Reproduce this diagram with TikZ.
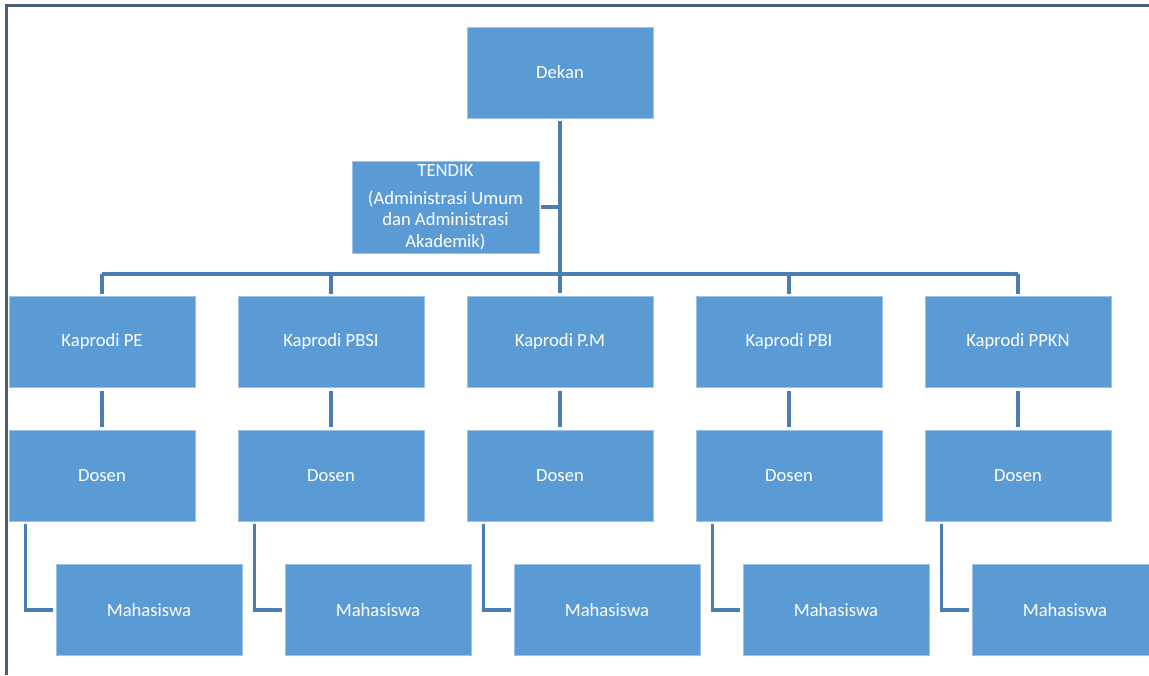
\documentclass[tikz,border=0pt]{standalone}
\usepackage{fontspec}
\setmainfont{Carlito}
\usetikzlibrary{positioning,calc}
\definecolor{boxblue}{HTML}{5B9BD5}
\definecolor{lineblue}{HTML}{4A7EB0}
\definecolor{framegray}{HTML}{4D5E78}
\tikzstyle{box} = [fill=boxblue,draw=boxblue!60!white,line width=0.4pt,minimum width=3.72cm,minimum height=1.82cm,text=white,font=\fontsize{10.6}{12.2}\selectfont,align=center,inner sep=0pt]
\tikzstyle{link} = [lineblue,line width=1.8pt]

\begin{document}
\begin{tikzpicture}
\clip (0,0) rectangle (22.98,13.5);
\draw[framegray,line width=1.5pt] (0.134,0) -- (0.134,13.39) -- (22.98,13.39);
% top
\node[box] (dekan) at (11.2,12.05) {Dekan};
\node[box,minimum width=3.74cm,minimum height=1.84cm] (tendik) at (8.91,9.36) {TENDIK\\[0.14cm](Administrasi Umum\\dan Administrasi\\Akademik)};
% kaprodi
\node[box] (kpe) at (2.04,6.67) {Kaprodi PE};
\node[box] (kpbsi) at (6.62,6.67) {Kaprodi PBSI};
\node[box] (kpm) at (11.2,6.67) {Kaprodi P.M};
\node[box] (kpbi) at (15.78,6.67) {Kaprodi PBI};
\node[box] (kppkn) at (20.36,6.67) {Kaprodi PPKN};
% dosen
\node[box] (dpe) at (2.04,3.99) {Dosen};
\node[box] (dpbsi) at (6.62,3.99) {Dosen};
\node[box] (dpm) at (11.2,3.99) {Dosen};
\node[box] (dpbi) at (15.78,3.99) {Dosen};
\node[box] (dppkn) at (20.36,3.99) {Dosen};
% mahasiswa
\node[box] (mpe) at (2.98,1.30) {Mahasiswa};
\node[box] (mpbsi) at (7.56,1.30) {Mahasiswa};
\node[box] (mpm) at (12.14,1.30) {Mahasiswa};
\node[box] (mpbi) at (16.72,1.30) {Mahasiswa};
\node[box] (mppkn) at (21.30,1.30) {Mahasiswa};
% lines
\coordinate (bar) at (11.2,8.02);
\draw[link] ([yshift=-0.06cm]dekan.south) -- ([yshift=0.06cm]kpm.north);
\draw[link] ([xshift=0.04cm]tendik.east) -- (tendik.east -| dekan.south);
\draw[link] (kpe |- bar) -- (kppkn |- bar);
\draw[link] (kpe |- bar) -- ([yshift=0.04cm]kpe.north);
\draw[link] (kpbsi |- bar) -- ([yshift=0.04cm]kpbsi.north);
\draw[link] (kpbi |- bar) -- ([yshift=0.04cm]kpbi.north);
\draw[link] (kppkn |- bar) -- ([yshift=0.04cm]kppkn.north);
\draw[link] ([yshift=-0.08cm]kpe.south) -- ([yshift=0.06cm]dpe.north);
\draw[link] ([yshift=-0.08cm]kpbsi.south) -- ([yshift=0.06cm]dpbsi.north);
\draw[link] ([yshift=-0.08cm]kpm.south) -- ([yshift=0.06cm]dpm.north);
\draw[link] ([yshift=-0.08cm]kpbi.south) -- ([yshift=0.06cm]dpbi.north);
\draw[link] ([yshift=-0.08cm]kppkn.south) -- ([yshift=0.06cm]dppkn.north);
\draw[link] ([xshift=0.34cm,yshift=-0.06cm]dpe.south west) |- ([xshift=-0.06cm]mpe.west);
\draw[link] ([xshift=0.34cm,yshift=-0.06cm]dpbsi.south west) |- ([xshift=-0.06cm]mpbsi.west);
\draw[link] ([xshift=0.34cm,yshift=-0.06cm]dpm.south west) |- ([xshift=-0.06cm]mpm.west);
\draw[link] ([xshift=0.34cm,yshift=-0.06cm]dpbi.south west) |- ([xshift=-0.06cm]mpbi.west);
\draw[link] ([xshift=0.34cm,yshift=-0.06cm]dppkn.south west) |- ([xshift=-0.06cm]mppkn.west);
\end{tikzpicture}
\end{document}
